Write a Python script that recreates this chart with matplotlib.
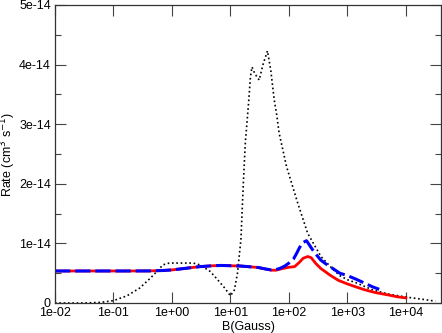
import numpy as np
import matplotlib
matplotlib.use("Agg")
import matplotlib.pyplot as plt
from matplotlib.ticker import LogLocator, FormatStrFormatter, MultipleLocator, NullLocator

plt.rcParams['font.family'] = ['Liberation Sans', 'DejaVu Sans']

# B field (Gauss) and rates in units of 1e-14 cm^3 s^-1
b_red = [0.01, 0.02, 0.05, 0.1, 0.2, 0.4, 0.7, 1.0, 1.5, 2, 3, 5, 7, 10, 15, 20, 30, 40,
         50, 60, 80, 100, 125, 150, 175, 210, 240, 290, 350, 500, 700, 1000, 1500, 2000,
         3000, 5000, 7000, 10000]
rate_red = [0.537, 0.537, 0.537, 0.537, 0.537, 0.538, 0.545, 0.555, 0.575, 0.59, 0.61,
            0.625, 0.63, 0.625, 0.62, 0.61, 0.595, 0.57, 0.55, 0.55, 0.58, 0.60, 0.61,
            0.68, 0.75, 0.78, 0.76, 0.66, 0.58, 0.47, 0.38, 0.32, 0.26, 0.22, 0.175,
            0.135, 0.105, 0.085]

b_blue = [0.01, 0.02, 0.05, 0.1, 0.2, 0.4, 0.7, 1.0, 1.5, 2, 3, 5, 7, 10, 15, 20, 30, 40,
          50, 60, 70, 85, 100, 120, 135, 150, 170, 200, 225, 255, 300, 350, 450, 560, 740,
          1000, 1400, 2000, 2700, 3500]
rate_blue = [0.537, 0.537, 0.537, 0.537, 0.537, 0.538, 0.545, 0.555, 0.575, 0.59, 0.61,
             0.625, 0.63, 0.625, 0.62, 0.61, 0.595, 0.57, 0.555, 0.56, 0.58, 0.62, 0.67,
             0.74, 0.83, 0.92, 1.01, 1.045, 0.97, 0.89, 0.80, 0.72, 0.64, 0.58, 0.50,
             0.46, 0.40, 0.33, 0.27, 0.23]

b_dot = [0.01, 0.03, 0.06, 0.1, 0.17, 0.28, 0.42, 0.58, 0.7, 0.9, 1.35, 2.3, 3, 4.5, 5.8,
         8, 10, 11.7, 13.2, 14.1, 15.1, 16.6, 18, 20.4, 22, 23.4, 26, 31, 36, 43, 49, 56,
         62, 68, 91, 141, 209, 352, 560, 740, 1000, 1400, 2700, 5000, 10000, 20000, 32000]
rate_dot = [0.0, 0.0, 0.01, 0.04, 0.12, 0.25, 0.41, 0.55, 0.64, 0.67, 0.67, 0.67, 0.64,
            0.53, 0.41, 0.25, 0.12, 0.22, 0.50, 0.78, 1.06, 2.0, 2.7, 3.35, 3.8, 3.96,
            3.85, 3.74, 4.0, 4.23, 3.9, 3.41, 3.15, 2.85, 2.29, 1.68, 1.17, 0.78, 0.57,
            0.46, 0.39, 0.34, 0.22, 0.15, 0.10, 0.06, 0.03]

fig = plt.figure(figsize=(4.42, 3.33), dpi=100)
ax = fig.add_axes([0.1244, 0.0901, 0.8733, 0.895])

scale = 1e-14
ax.plot(b_dot, np.array(rate_dot) * scale, color='black', lw=1.2,
        linestyle=(0, (1, 1.6)))
ax.plot(b_red, np.array(rate_red) * scale, color='#ff0000', lw=2.0)
ax.plot(b_blue, np.array(rate_blue) * scale, color='#0000ff', lw=2.2,
        linestyle=(0, (5, 1.6)))

ax.set_xscale('log')
ax.set_xlim(1e-2, 10 ** 4.6)
ax.set_ylim(0, 5e-14)

ax.xaxis.set_major_locator(LogLocator(base=10, numticks=10))
ax.xaxis.set_minor_locator(NullLocator())
ax.xaxis.set_major_formatter(FormatStrFormatter('%.0e'))
ax.set_yticks([0, 1e-14, 2e-14, 3e-14, 4e-14, 5e-14])
ax.set_yticklabels(['0', '1e-14', '2e-14', '3e-14', '4e-14', '5e-14'])
ax.yaxis.set_minor_locator(MultipleLocator(0.5e-14))

ax.tick_params(which='both', direction='in', top=True, right=True,
               labelsize=9, color='#444444')
ax.tick_params(which='major', length=8, width=0.8, pad=3)
ax.tick_params(which='minor', length=4, width=0.8)
for s in ax.spines.values():
    s.set_linewidth(0.9)
    s.set_color('#333333')

ax.set_xlabel('B(Gauss)', fontsize=9, labelpad=1)
ax.set_ylabel('Rate (cm$^3$ s$^{-1}$)', fontsize=9)
ax.yaxis.set_label_coords(-0.095, 0.5)

fig.savefig('out.png', dpi=100)
